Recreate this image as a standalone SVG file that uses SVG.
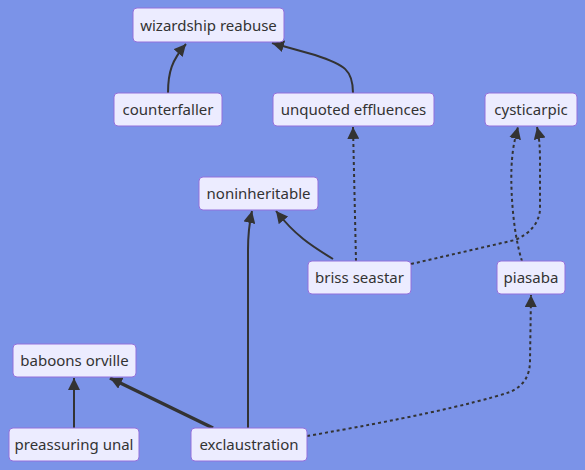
<svg xmlns="http://www.w3.org/2000/svg" width="585" height="470" viewBox="0 0 585 470">
<defs>
<style>
.node rect{fill:#ECECFF;stroke:#9370DB;stroke-width:1}
.node text{font-family:"Noto Sans","Open Sans","DejaVu Sans",sans-serif;font-size:15px;fill:#333;text-anchor:middle}
.edge{fill:none;stroke:#333;stroke-width:2}
.thick{stroke-width:3.5}
.dot{stroke-dasharray:3 3}
</style>
<marker id="arr" viewBox="0 0 10 10" refX="10" refY="5" markerWidth="12" markerHeight="12" markerUnits="userSpaceOnUse" orient="auto">
<path d="M0,0 L10,5 L0,10 z" fill="#333"/>
</marker>
</defs>
<rect width="585" height="470" fill="#7B93E8"/>
<g id="edges">
<path class="edge" d="M168,93 C168,72 172,60 186,44" marker-end="url(#arr)"/>
<path class="edge" d="M353,93 C353,70 345,65 315,55 L272,43" marker-end="url(#arr)"/>
<path class="edge dot" d="M356,261 L353,127" marker-end="url(#arr)"/>
<path class="edge dot" d="M411,264 L515,240 Q538,230 540,210 L540,160 Q540,140 537,127" marker-end="url(#arr)"/>
<path class="edge dot" d="M522,261 C512,230 510,180 512,160 C513,145 516,135 518,127" marker-end="url(#arr)"/>
<path class="edge" d="M333,259 C310,245 295,235 276,211" marker-end="url(#arr)"/>
<path class="edge" d="M248,428 L248,250 C248,230 250,220 252,211" marker-end="url(#arr)"/>
<path class="edge thick" d="M213,428 L110,378" marker-end="url(#arr)"/>
<path class="edge" d="M74,428 L74,378" marker-end="url(#arr)"/>
<path class="edge dot" d="M307,436 C400,420 470,405 510,392 C525,385 530,375 530,360 L531,295" marker-end="url(#arr)"/>
</g>
<g id="n-wizardship" class="node"><rect x="133" y="8" width="151" height="34" rx="4"/><text x="208.5" y="31">wizardship reabuse</text></g>
<g id="n-counterfaller" class="node"><rect x="114" y="93" width="108" height="33" rx="4"/><text x="168" y="115">counterfaller</text></g>
<g id="n-unquoted" class="node"><rect x="273" y="93" width="161" height="33" rx="4"/><text x="353.5" y="115">unquoted effluences</text></g>
<g id="n-cysticarpic" class="node"><rect x="485" y="93" width="92" height="33" rx="4"/><text x="531" y="115">cysticarpic</text></g>
<g id="n-noninheritable" class="node"><rect x="199" y="177" width="119" height="33" rx="4"/><text x="258.5" y="199">noninheritable</text></g>
<g id="n-briss" class="node"><rect x="308" y="261" width="103" height="33" rx="4"/><text x="359.5" y="283">briss seastar</text></g>
<g id="n-piasaba" class="node"><rect x="497" y="261" width="68" height="33" rx="4"/><text x="531" y="283">piasaba</text></g>
<g id="n-baboons" class="node"><rect x="13" y="344" width="123" height="33" rx="4"/><text x="74.5" y="366">baboons orville</text></g>
<g id="n-preassuring" class="node"><rect x="9" y="428" width="130" height="33" rx="4"/><text x="74" y="450">preassuring unal</text></g>
<g id="n-exclaustration" class="node"><rect x="191" y="428" width="116" height="33" rx="4"/><text x="249" y="450">exclaustration</text></g>
</svg>
